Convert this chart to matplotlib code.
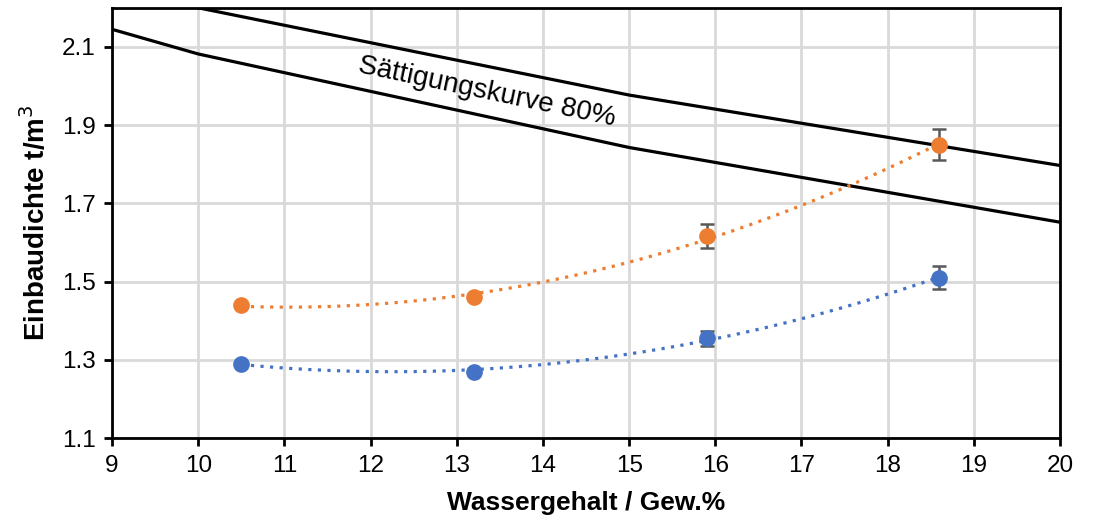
import numpy as np
import matplotlib.pyplot as plt

plt.rcParams['font.family'] = ['Liberation Sans', 'DejaVu Sans']

# measured values
wasser = [10.5, 13.2, 15.9, 18.6]
dichte_orange = [1.44, 1.46, 1.617, 1.85]
fehler_orange = [0.0, 0.0, 0.03, 0.04]
dichte_blau = [1.29, 1.27, 1.355, 1.51]
fehler_blau = [0.0, 0.0, 0.02, 0.03]

# saturation curves
kurve_x = [9, 10, 15, 20]
kurve_oben = [2.27, 2.20, 1.977, 1.797]
kurve_unten = [2.145, 2.082, 1.843, 1.652]

x_ticks = list(range(9, 21))
y_ticks = [1.1, 1.3, 1.5, 1.7, 1.9, 2.1]

orange = '#ED7D31'
blau = '#4472C4'

fig = plt.figure(figsize=(10.99, 5.21), dpi=100)
ax = fig.add_axes([0.102, 0.159, 0.8625, 0.826])

ax.plot(kurve_x, kurve_oben, color='black', lw=2.3, zorder=3)
ax.plot(kurve_x, kurve_unten, color='black', lw=2.3, zorder=3)

for y, err, col in [(dichte_orange, fehler_orange, orange), (dichte_blau, fehler_blau, blau)]:
    # polynomial trendline (order 2)
    p = np.polyfit(wasser, y, 2)
    xs = np.linspace(wasser[0], wasser[-1], 200)
    ax.plot(xs, np.polyval(p, xs), color=col, lw=2.3, ls=(0, (1, 2)), zorder=4)
    ax.errorbar(wasser, y, yerr=err, fmt='o', color=col, ms=11, ecolor='#595959',
                elinewidth=1.8, capsize=5, capthick=1.8, zorder=5)

ax.text(13.35, 1.985, 'Sättigungskurve 80%', rotation=-11.8, fontsize=20,
        ha='center', va='center', zorder=6)

ax.set_xlim(9, 20)
ax.set_ylim(1.1, 2.2)
ax.set_xticks(x_ticks)
ax.set_yticks(y_ticks)
ax.set_yticklabels([str(v) for v in y_ticks])
ax.grid(color='#d9d9d9', lw=2)
ax.set_axisbelow(True)
for s in ax.spines.values():
    s.set_linewidth(2)
    s.set_color('black')
ax.tick_params(axis='both', labelsize=17.5, direction='out', length=6, width=2,
               color='black', pad=6)

ax.set_xlabel('Wassergehalt / Gew.%', fontsize=19, fontweight='bold', labelpad=10)
ax.set_ylabel('Einbaudichte t/m$^3$', fontsize=20, fontweight='bold', labelpad=8)

fig.savefig('out.png', dpi=100)
